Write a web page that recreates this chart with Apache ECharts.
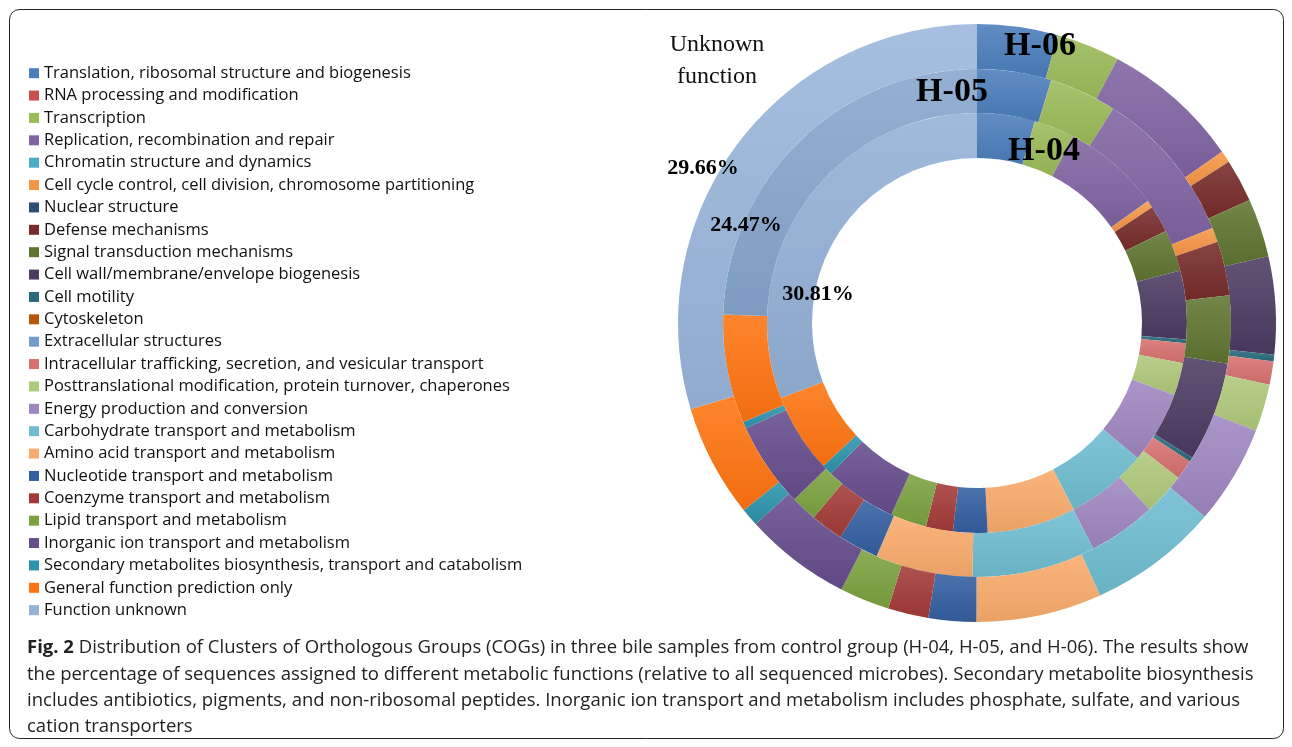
<!DOCTYPE html>
<html>
<head>
<meta charset="utf-8">
<script src="https://cdn.jsdelivr.net/npm/echarts@6/dist/echarts.min.js"></script>
<style>
html,body{margin:0;padding:0;background:#fff;}
#chart{width:1292px;height:747px;}
</style>
</head>
<body>
<div id="chart"></div>
<script>
const categories = [
  'Translation, ribosomal structure and biogenesis',
  'RNA processing and modification',
  'Transcription',
  'Replication, recombination and repair',
  'Chromatin structure and dynamics',
  'Cell cycle control, cell division, chromosome partitioning',
  'Nuclear structure',
  'Defense mechanisms',
  'Signal transduction mechanisms',
  'Cell wall/membrane/envelope biogenesis',
  'Cell motility',
  'Cytoskeleton',
  'Extracellular structures',
  'Intracellular trafficking, secretion, and vesicular transport',
  'Posttranslational modification, protein turnover, chaperones',
  'Energy production and conversion',
  'Carbohydrate transport and metabolism',
  'Amino acid transport and metabolism',
  'Nucleotide transport and metabolism',
  'Coenzyme transport and metabolism',
  'Lipid transport and metabolism',
  'Inorganic ion transport and metabolism',
  'Secondary metabolites biosynthesis, transport and catabolism',
  'General function prediction only',
  'Function unknown'
];
// percentages per sample (inner ring H-04, middle H-05, outer H-06)
const h04 = [4.44, 0.01, 3.10, 7.59, 0.01, 0.56, 0, 2.08, 3.19, 5.28, 0.28, 0, 0, 1.53, 2.50, 5.56, 6.25, 6.81, 2.64, 2.08, 2.78, 5.56, 0.83, 6.11, 30.81];
const h05 = [4.72, 0.01, 4.28, 9.89, 0.01, 0.92, 0, 3.44, 4.31, 6.33, 0.28, 0, 0, 1.25, 2.69, 4.31, 7.86, 6.19, 2.58, 2.06, 1.67, 5.42, 0.42, 6.92, 24.47];
const h06 = [4.36, 0.01, 3.42, 7.50, 0.01, 0.64, 0, 2.31, 3.17, 5.28, 0.36, 0, 0, 1.25, 2.56, 5.36, 7.03, 6.78, 2.58, 2.19, 2.69, 5.78, 0.97, 6.11, 29.66];
const sampleNames = ['H-04', 'H-05', 'H-06'];

const colors = [
  '#4a7ebb', '#c9504f', '#9bbb59', '#8064a2', '#4bacc6', '#f79646', '#2c4d75', '#772c2a',
  '#5f7530', '#4d3b62', '#276a7c', '#b65708', '#729aca', '#d6716f', '#afc97a', '#9e86c0',
  '#6fbdd1', '#f9ab6b', '#335fa0', '#a33a37', '#7ba23f', '#664d8c', '#2c93ab', '#ff7410', '#95b3d7'
];

function mix(hex, target, t) {
  const n = parseInt(hex.slice(1), 16);
  const r = (n >> 16) & 255, g = (n >> 8) & 255, b = n & 255;
  const f = v => Math.round(v + (target - v) * t);
  return 'rgb(' + f(r) + ',' + f(g) + ',' + f(b) + ')';
}
function grad(hex) {
  return {
    type: 'linear', x: 0, y: 0, x2: 0, y2: 1,
    colorStops: [{offset: 0, color: mix(hex, 255, 0.12)}, {offset: 1, color: mix(hex, 0, 0.06)}]
  };
}

const chart = echarts.init(document.getElementById('chart'), null, {renderer: 'canvas'});

function ring(name, values, radius, unknownColor) {
  return {
    type: 'pie',
    name: name,
    center: [977, 323],
    radius: radius,
    startAngle: 90,
    clockwise: true,
    silent: true,
    z: 1,
    avoidLabelOverlap: false,
    label: {show: false},
    labelLine: {show: false},
    itemStyle: {borderWidth: 0},
    emphasis: {disabled: true},
    data: categories.map((c, i) => ({
      name: c,
      value: values[i],
      itemStyle: {color: grad((i === categories.length - 1 && unknownColor) ? unknownColor : colors[i])}
    }))
  };
}

const serif = 'Liberation Serif, Times New Roman, serif';
const sans = 'Open Sans, sans-serif';
const unk = categories.length - 1;

const captionLines = [
  [{t: 'Fig. 2', b: true}, {t: ' Distribution of Clusters of Orthologous Groups (COGs) in three bile samples from control group (H-04, H-05, and H-06). The results show'}],
  [{t: 'the percentage of sequences assigned to different metabolic functions (relative to all sequenced microbes). Secondary metabolite biosynthesis'}],
  [{t: 'includes antibiotics, pigments, and non-ribosomal peptides. Inorganic ion transport and metabolism includes phosphate, sulfate, and various'}],
  [{t: 'cation transporters'}]
];
const captionY = [648, 674.5, 701, 727];

const graphics = [
  {type: 'rect', z: 100, shape: {x: 9.5, y: 9.5, width: 1274, height: 729, r: 10}, style: {fill: 'none', stroke: '#222', lineWidth: 1}, silent: true},
  {type: 'text', z: 100, x: 717, y: 61, style: {text: 'Unknown\nfunction', font: '24px ' + serif, fill: '#111', align: 'center', verticalAlign: 'middle', lineHeight: 32}},
  {type: 'text', z: 100, x: 1040, y: 46, style: {text: sampleNames[2], font: 'bold 34px ' + serif, fill: '#000', align: 'center', verticalAlign: 'middle'}},
  {type: 'text', z: 100, x: 952, y: 92, style: {text: sampleNames[1], font: 'bold 34px ' + serif, fill: '#000', align: 'center', verticalAlign: 'middle'}},
  {type: 'text', z: 100, x: 1044, y: 151, style: {text: sampleNames[0], font: 'bold 34px ' + serif, fill: '#000', align: 'center', verticalAlign: 'middle'}},
  {type: 'text', z: 100, x: 703, y: 168, style: {text: h06[unk].toFixed(2) + '%', font: 'bold 22px ' + serif, fill: '#000', align: 'center', verticalAlign: 'middle'}},
  {type: 'text', z: 100, x: 746, y: 225, style: {text: h05[unk].toFixed(2) + '%', font: 'bold 22px ' + serif, fill: '#000', align: 'center', verticalAlign: 'middle'}},
  {type: 'text', z: 100, x: 818, y: 294, style: {text: h04[unk].toFixed(2) + '%', font: 'bold 22px ' + serif, fill: '#000', align: 'center', verticalAlign: 'middle'}}
];
captionLines.forEach((parts, li) => {
  const rich = {b: {fontFamily: 'Open Sans', fontWeight: 'bold', fontSize: 18.5, fill: '#222'}, n: {fontFamily: 'Open Sans', fontSize: 18.5, fill: '#222'}};
  const txt = parts.map(p => '{' + (p.b ? 'b' : 'n') + '|' + p.t + '}').join('');
  graphics.push({type: 'text', z: 100, x: 27, y: captionY[li], style: {text: txt, rich: rich, verticalAlign: 'middle', align: 'left'}});
});

chart.setOption({
  animation: false,
  backgroundColor: '#fff',
  legend: {
    orient: 'vertical',
    left: 29,
    top: 62,
    padding: 0,
    itemGap: 0,
    itemWidth: 10,
    itemHeight: 10,
    selectedMode: false,
    icon: 'rect',
    data: categories.map((c, i) => ({name: c, itemStyle: {color: colors[i]}})),
    textStyle: {fontFamily: sans, fontSize: 16.5, color: '#111', lineHeight: 22.375, padding: [0, 0, 0, 0]}
  },
  series: [
    ring(sampleNames[0], h04, [165, 210], '#93b1d6'),
    ring(sampleNames[1], h05, [210, 254], '#86a5cd'),
    ring(sampleNames[2], h06, [254, 299], '#9ab6dc')
  ],
  graphic: graphics
});
</script>
</body>
</html>
